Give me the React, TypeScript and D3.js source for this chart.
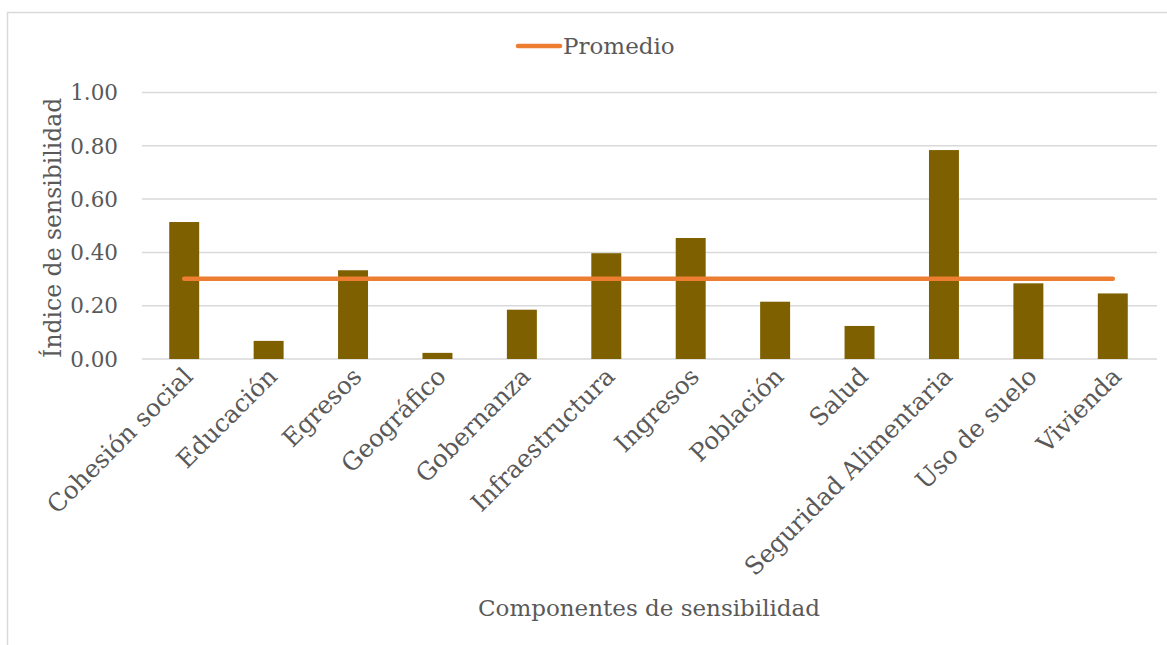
import React from "react";
import * as d3 from "d3";

const categories = [
  "Cohesión social",
  "Educación",
  "Egresos",
  "Geográfico",
  "Gobernanza",
  "Infraestructura",
  "Ingresos",
  "Población",
  "Salud",
  "Seguridad Alimentaria",
  "Uso de suelo",
  "Vivienda",
];
const values = [0.514, 0.068, 0.333, 0.023, 0.185, 0.397, 0.454, 0.215, 0.124, 0.784, 0.284, 0.246];
const average = categories.map(() => 0.301);
const yTicks = [0, 0.2, 0.4, 0.6, 0.8, 1.0];

const W = 1167;
const H = 645;
const left = 142;
const right = 1155;
const top = 92.5;
const bottom = 359;
const font = "'DejaVu Serif', serif";
const textColor = "#595959";

export default function App() {
  const x = d3.scaleBand<string>().domain(categories).range([left, right]).paddingInner(0.645).paddingOuter(0.3225);
  const y = d3.scaleLinear().domain([0, 1]).range([bottom, top]);
  const line = d3
    .line<number>()
    .x((_, i) => (x(categories[i]) as number) + x.bandwidth() / 2)
    .y((d) => y(d));

  return (
    <svg width={W} height={H} style={{ position: "absolute", left: 0, top: 0, background: "#fff" }}>
      <rect x={7.5} y={12.5} width={W + 20} height={H + 20} fill="#fff" stroke="#d9d9d9" strokeWidth={1.5} />
      {yTicks.map((t) => (
        <g key={t}>
          <line x1={left} x2={right + 2} y1={y(t)} y2={y(t)} stroke="#d9d9d9" strokeWidth={1.5} />
          <text x={118} y={y(t)} dy="0.36em" textAnchor="end" fontFamily={font} fontSize={21.5} fill={textColor}>
            {t.toFixed(2)}
          </text>
        </g>
      ))}
      {categories.map((c, i) => (
        <rect
          key={c}
          x={x(c)}
          y={y(values[i])}
          width={x.bandwidth()}
          height={y(0) - y(values[i])}
          fill="#7f6000"
        />
      ))}
      <path d={line(average) || ""} fill="none" stroke="#ed7d31" strokeWidth={4.5} strokeLinecap="round" />
      {categories.map((c) => {
        const cx = (x(c) as number) + x.bandwidth() / 2 + 10;
        const cy = 378;
        return (
          <text
            key={c}
            transform={`translate(${cx},${cy}) rotate(-45)`}
            textAnchor="end"
            fontFamily={font}
            fontSize={24.5}
            fill={textColor}
          >
            {c}
          </text>
        );
      })}
      <text
        transform={`translate(61,${(top + bottom) / 2 + 2}) rotate(-90)`}
        textAnchor="middle"
        fontFamily={font}
        fontSize={23.5}
        fill={textColor}
      >
        Índice de sensibilidad
      </text>
      <text x={649} y={616} textAnchor="middle" fontFamily={font} fontSize={23} fill={textColor}>
        Componentes de sensibilidad
      </text>
      <line x1={518} x2={560} y1={46} y2={46} stroke="#ed7d31" strokeWidth={4.5} strokeLinecap="round" />
      <text x={563} y={46} dy="0.36em" fontFamily={font} fontSize={23} fill={textColor}>
        Promedio
      </text>
    </svg>
  );
}
